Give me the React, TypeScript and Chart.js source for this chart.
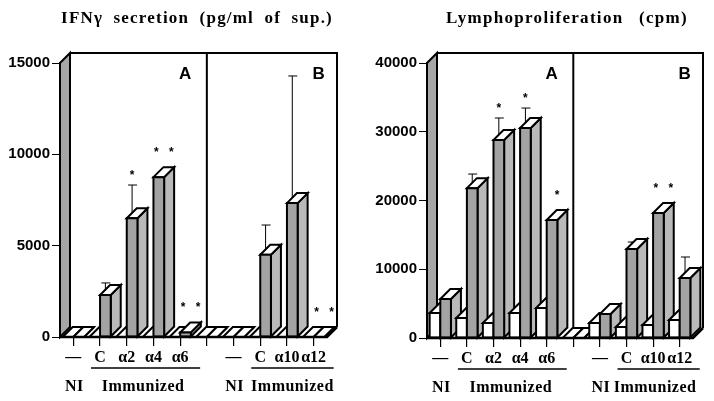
import React, { useEffect, useRef } from "react";
import { Chart, registerables } from "chart.js";
Chart.register(...registerables);

// ---------- data ----------
const categories = ["—", "C", "α2", "α4", "α6", "", "—", "C", "α10", "α12"];
const panelLetters = ["A", "B"];
const panelLetterIndex = [4, 9];
const niIndex = [0, 6];
const immunizedRange = [
  [1, 4],
  [7, 9],
];
const dividerIndex = 5;
const groupLabels = ["NI", "Immunized"];

// IFN-gamma secretion (pg/ml of sup.)
const ifnTitle = "IFNγ secretion (pg/ml of sup.)";
const ifnTicks = [0, 5000, 10000, 15000];
const ifnWhite = [0, 0, 0, 0, 0, 0, 0, 0, 0, 0];
const ifnGrey = [0, 2300, 6500, 8750, 250, 0, 0, 4500, 7330, 0];
const ifnGreyErr: (number | null)[] = [null, 2960, 8320, null, null, null, null, 6130, 14290, null];
const ifnStars = [0, 0, 1, 2, 2, 0, 0, 0, 0, 2];

// Lymphoproliferation (cpm)
const lymTitle = "Lymphoproliferation (cpm)";
const lymTicks = [0, 10000, 20000, 30000, 40000];
const lymWhite = [3640, 2910, 2180, 3640, 4360, 0, 2180, 1600, 1890, 2620];
const lymGrey = [5670, 21800, 28800, 30550, 17160, 0, 3490, 12950, 18180, 8730];
const lymGreyErr: (number | null)[] = [null, 23850, 32000, 33450, null, null, null, 13960, null, 11780];
const lymStars = [0, 0, 1, 1, 1, 0, 0, 0, 2, 0];

// ---------- style ----------
const DX = 10;
const DY = -10;
const GREY_FRONT = "#a3a3a3";
const GREY_SIDE = "#b9b9b9";
const WALL = "#a6a6a6";
const SERIF = '"Liberation Serif", "Times New Roman", serif';
const SANS = '"Liberation Sans", Arial, sans-serif';

function box3d(ctx: CanvasRenderingContext2D, x0: number, x1: number, yTop: number, yBase: number, front: string, side: string) {
  ctx.lineWidth = 2;
  ctx.strokeStyle = "#000";
  ctx.lineJoin = "miter";
  ctx.beginPath();
  ctx.moveTo(x1, yTop);
  ctx.lineTo(x1 + DX, yTop + DY);
  ctx.lineTo(x1 + DX, yBase + DY);
  ctx.lineTo(x1, yBase);
  ctx.closePath();
  ctx.fillStyle = side;
  ctx.fill();
  ctx.stroke();
  ctx.beginPath();
  ctx.moveTo(x0, yTop);
  ctx.lineTo(x0 + DX, yTop + DY);
  ctx.lineTo(x1 + DX, yTop + DY);
  ctx.lineTo(x1, yTop);
  ctx.closePath();
  ctx.fillStyle = "#fff";
  ctx.fill();
  ctx.stroke();
  ctx.beginPath();
  ctx.rect(x0, yTop, x1 - x0, yBase - yTop);
  ctx.fillStyle = front;
  ctx.fill();
  ctx.stroke();
}

type Spec = {
  title: string;
  titleX: number;
  titleLS: string;
  titleWS: string;
  ticks: number[];
  white: number[];
  grey: number[];
  err: (number | null)[];
  stars: number[];
  yWidth: number;
  padRight: number;
  xHeight: number;
  immShift: number[];
};

function makePlugin(spec: Spec) {
  return {
    id: "threeD",
    beforeDraw(chart: any) {
      chart.ctx.letterSpacing = "0px";
    },
    beforeDatasetsDraw(chart: any) {
      const { ctx, chartArea: a, scales } = chart;
      const xs = scales.x;
      ctx.save();
      ctx.lineWidth = 2;
      ctx.strokeStyle = "#000";
      // left wall
      ctx.beginPath();
      ctx.moveTo(a.left, a.bottom);
      ctx.lineTo(a.left, a.top);
      ctx.lineTo(a.left + DX, a.top + DY);
      ctx.lineTo(a.left + DX, a.bottom + DY);
      ctx.closePath();
      ctx.fillStyle = WALL;
      ctx.fill();
      ctx.stroke();
      // back box
      ctx.beginPath();
      ctx.moveTo(a.left + DX, a.top + DY);
      ctx.lineTo(a.right + DX, a.top + DY);
      ctx.lineTo(a.right + DX, a.bottom + DY);
      ctx.stroke();
      // panel divider
      const xd = xs.getPixelForValue(dividerIndex);
      ctx.beginPath();
      ctx.moveTo(xd, a.top + DY);
      ctx.lineTo(xd, a.bottom + DY);
      ctx.stroke();
      ctx.restore();
    },
    afterDatasetsDraw(chart: any) {
      const { ctx, chartArea: a, scales } = chart;
      const xs = scales.x;
      const ys = scales.y;
      const m0 = chart.getDatasetMeta(0);
      const m1 = chart.getDatasetMeta(1);
      ctx.save();
      // error bars
      ctx.lineWidth = 1;
      ctx.strokeStyle = "#000";
      spec.err.forEach((e, i) => {
        if (e == null) return;
        const el = m1.data[i];
        const yE = ys.getPixelForValue(e);
        ctx.beginPath();
        ctx.moveTo(el.x, el.y);
        ctx.lineTo(el.x, yE);
        ctx.moveTo(el.x - 4, yE);
        ctx.lineTo(el.x + 5, yE);
        ctx.stroke();
      });
      // 3D bars
      for (let i = 0; i < categories.length; i++) {
        const pairs: [any, string, string][] = [
          [m0, "#fff", "#fff"],
          [m1, GREY_FRONT, GREY_SIDE],
        ];
        for (const [m, front, side] of pairs) {
          const el = m.data[i];
          box3d(ctx, el.x - el.width / 2, el.x + el.width / 2, el.y, el.base, front, side);
        }
      }
      // floor front edge
      ctx.lineWidth = 2.5;
      ctx.beginPath();
      ctx.moveTo(a.left, a.bottom);
      ctx.lineTo(a.right, a.bottom);
      ctx.lineTo(a.right + DX, a.bottom + DY);
      ctx.stroke();
      // asterisks
      ctx.fillStyle = "#000";
      ctx.textAlign = "center";
      ctx.textBaseline = "alphabetic";
      ctx.letterSpacing = "0px";
      ctx.font = `bold 12px ${SANS}`;
      spec.stars.forEach((n, i) => {
        if (!n) return;
        const el = m1.data[i];
        const e = spec.err[i];
        const hasErr = e != null;
        const cx = hasErr ? el.x : el.x + DX / 2;
        const yStar = Math.min(hasErr ? ys.getPixelForValue(e) - 13 : 1e9, el.y - 28);
        const px = n === 1 ? [cx] : [cx - 7.5, cx + 7.5];
        px.forEach((xx) => ctx.fillText("*", xx, yStar + 7));
      });
      // panel letters
      ctx.font = `bold 17px ${SANS}`;
      panelLetters.forEach((t, k) => ctx.fillText(t, xs.getPixelForValue(panelLetterIndex[k]) + 5, a.top + 16));
      // group labels
      ctx.font = `bold 16px ${SERIF}`;
      ctx.letterSpacing = "0.5px";
      const yLab = a.bottom + 54;
      niIndex.forEach((i) => ctx.fillText(groupLabels[0], xs.getPixelForValue(i) + 1, yLab));
      immunizedRange.forEach(([s, e], k) => {
        const xa = xs.getPixelForValue(s);
        const xb = xs.getPixelForValue(e);
        ctx.fillText(groupLabels[1], (xa + xb) / 2 + spec.immShift[k], yLab);
        ctx.lineWidth = 1.3;
        ctx.beginPath();
        ctx.moveTo(xa - 9, a.bottom + 31);
        ctx.lineTo(xb + 20, a.bottom + 31);
        ctx.stroke();
      });
      // title
      ctx.font = `bold 17px ${SERIF}`;
      ctx.letterSpacing = spec.titleLS;
      (ctx as any).wordSpacing = spec.titleWS;
      ctx.fillText(spec.title, spec.titleX, 23);
      (ctx as any).wordSpacing = "0px";
      ctx.letterSpacing = "0px";
      ctx.restore();
    },
  };
}

function buildConfig(spec: Spec): any {
  const ds = (data: number[]) => ({
    data,
    backgroundColor: "rgba(0,0,0,0)",
    borderWidth: 0,
    categoryPercentage: 0.8,
    barPercentage: 1,
  });
  return {
    type: "bar",
    data: { labels: categories, datasets: [ds(spec.white), ds(spec.grey)] },
    plugins: [makePlugin(spec)],
    options: {
      responsive: false,
      animation: false,
      devicePixelRatio: 1,
      layout: { padding: { top: 63, right: spec.padRight, left: 0, bottom: 0 } },
      plugins: { legend: { display: false }, tooltip: { enabled: false }, title: { display: false } },
      scales: {
        x: {
          type: "category",
          offset: true,
          grid: { display: true, drawOnChartArea: false, drawTicks: true, tickLength: 9, offset: false, color: "#000", lineWidth: 1.2 },
          border: { display: true, color: "#000", width: 2 },
          ticks: { color: "#000", font: { family: SERIF, size: 16, weight: "bold" }, padding: 2, autoSkip: false, maxRotation: 0, minRotation: 0 },
          afterFit: (s: any) => {
            s.height = spec.xHeight;
          },
        },
        y: {
          min: 0,
          max: spec.ticks[spec.ticks.length - 1],
          grid: { drawOnChartArea: false, drawTicks: true, tickLength: 8, color: "#000", lineWidth: 1 },
          border: { display: true, color: "#000", width: 2 },
          ticks: { color: "#000", font: { family: SANS, size: 15, weight: "bold" }, padding: 2, callback: (v: any) => String(v) },
          afterBuildTicks: (s: any) => {
            s.ticks = spec.ticks.map((v) => ({ value: v }));
          },
          afterFit: (s: any) => {
            s.width = spec.yWidth;
          },
        },
      },
    },
  };
}

export default function App() {
  const leftRef = useRef<HTMLCanvasElement>(null);
  const rightRef = useRef<HTMLCanvasElement>(null);
  useEffect(() => {
    const c1 = new Chart(
      leftRef.current as HTMLCanvasElement,
      buildConfig({
        title: ifnTitle,
        titleX: 197,
        titleLS: "1.2px",
        titleWS: "5px",
        ticks: ifnTicks,
        white: ifnWhite,
        grey: ifnGrey,
        err: ifnGreyErr,
        stars: ifnStars,
        yWidth: 60,
        padRight: 30,
        xHeight: 64,
        immShift: [3, 5.5],
      })
    );
    const c2 = new Chart(
      rightRef.current as HTMLCanvasElement,
      buildConfig({
        title: lymTitle,
        titleX: 210,
        titleLS: "1.3px",
        titleWS: "10px",
        ticks: lymTicks,
        white: lymWhite,
        grey: lymGrey,
        err: lymGreyErr,
        stars: lymStars,
        yWidth: 70,
        padRight: 21,
        xHeight: 63,
        immShift: [4, 2],
      })
    );
    return () => {
      c1.destroy();
      c2.destroy();
    };
  }, []);
  return (
    <div style={{ position: "fixed", left: 0, top: 0, width: 714, height: 401, background: "#fff" }}>
      <canvas ref={leftRef} width={357} height={401} style={{ position: "absolute", left: 0, top: 0, width: 357, height: 401 }} />
      <canvas ref={rightRef} width={357} height={401} style={{ position: "absolute", left: 357, top: 0, width: 357, height: 401 }} />
    </div>
  );
}
